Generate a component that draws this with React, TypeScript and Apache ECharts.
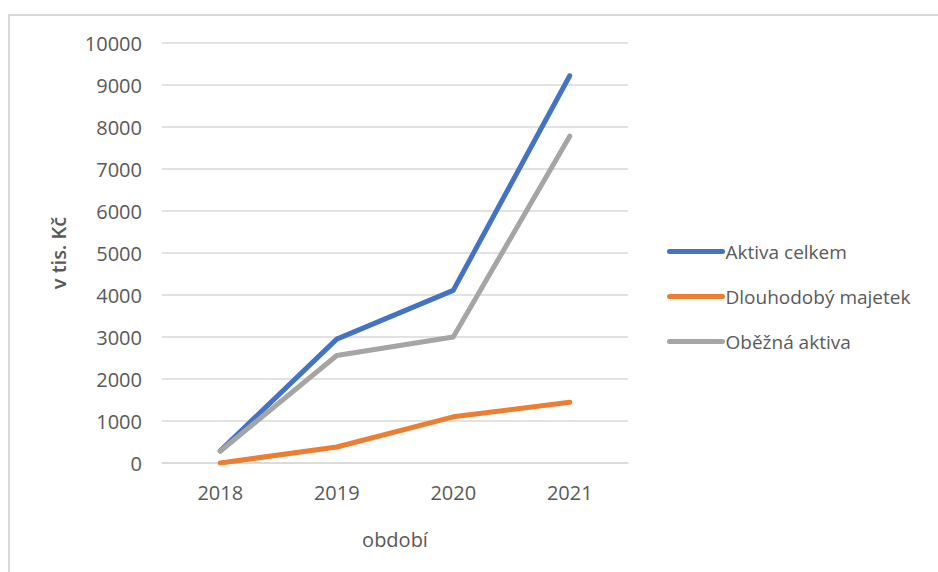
import React, { useEffect, useRef } from "react";
import * as echarts from "echarts";

const categories = ["2018", "2019", "2020", "2021"];
const aktivaCelkem = [290, 2950, 4110, 9220];
const dlouhodobyMajetek = [0, 380, 1100, 1445];
const obeznaAktiva = [280, 2560, 3000, 7780];
const seriesNames = ["Aktiva celkem", "Dlouhodobý majetek", "Oběžná aktiva"];
const colors = ["#4472C4", "#ED7D31", "#A5A5A5"];

const FONT = "Open Sans";
const TEXT = "#595959";

export default function App() {
  const ref = useRef<HTMLDivElement>(null);
  useEffect(() => {
    if (!ref.current) return;
    const chart = echarts.init(ref.current, undefined, { renderer: "svg" });
    const data = [aktivaCelkem, dlouhodobyMajetek, obeznaAktiva];
    chart.setOption({
      animation: false,
      backgroundColor: "#ffffff",
      textStyle: { fontFamily: FONT, color: TEXT },
      graphic: [
        {
          type: "rect",
          shape: { x: 9, y: 15, width: 1200, height: 1200 },
          style: { fill: "none", stroke: "#d9d9d9", lineWidth: 2 },
          silent: true,
        },
      ],
      grid: { left: 162, right: 310, top: 43, bottom: 109 },
      legend: {
        orient: "vertical",
        left: 667,
        top: 242,
        padding: 0,
        itemWidth: 53,
        itemHeight: 20,
        itemGap: 26,
        data: seriesNames,
        lineStyle: { width: 5, cap: "round" },
        itemStyle: { opacity: 0, borderWidth: 0 },
        textStyle: { fontFamily: FONT, fontSize: 19, color: TEXT, padding: [0, 0, 0, -2] },
      },
      xAxis: {
        type: "category",
        data: categories,
        boundaryGap: true,
        name: "období",
        nameLocation: "middle",
        nameGap: 66,
        nameTextStyle: { fontFamily: FONT, fontSize: 20, color: TEXT },
        axisLine: { show: true, lineStyle: { color: "#d9d9d9", width: 1.5 } },
        axisTick: { show: false },
        axisLabel: { fontFamily: FONT, fontSize: 20, color: TEXT, margin: 19 },
      },
      yAxis: {
        type: "value",
        min: 0,
        max: 10000,
        interval: 1000,
        name: "v tis. Kč",
        nameLocation: "middle",
        nameGap: 94,
        nameTextStyle: { fontFamily: FONT, fontSize: 20, color: TEXT, fontWeight: 600 },
        axisLine: { show: false },
        axisTick: { show: false },
        axisLabel: {
          fontFamily: FONT,
          fontSize: 20,
          color: TEXT,
          margin: 20,
          formatter: (v: number) => String(v),
        },
        splitLine: { lineStyle: { color: "#d9d9d9", width: 1.5 } },
      },
      series: seriesNames.map((name, i) => ({
        name,
        type: "line",
        data: data[i],
        showSymbol: false,
        symbol: "none",
        color: colors[i],
        lineStyle: { color: colors[i], width: 5, cap: "round", join: "round" },
        itemStyle: { color: colors[i] },
      })),
    });
    return () => chart.dispose();
  }, []);
  return (
    <div
      ref={ref}
      style={{ position: "fixed", left: 0, top: 0, width: 938, height: 572 }}
    />
  );
}
